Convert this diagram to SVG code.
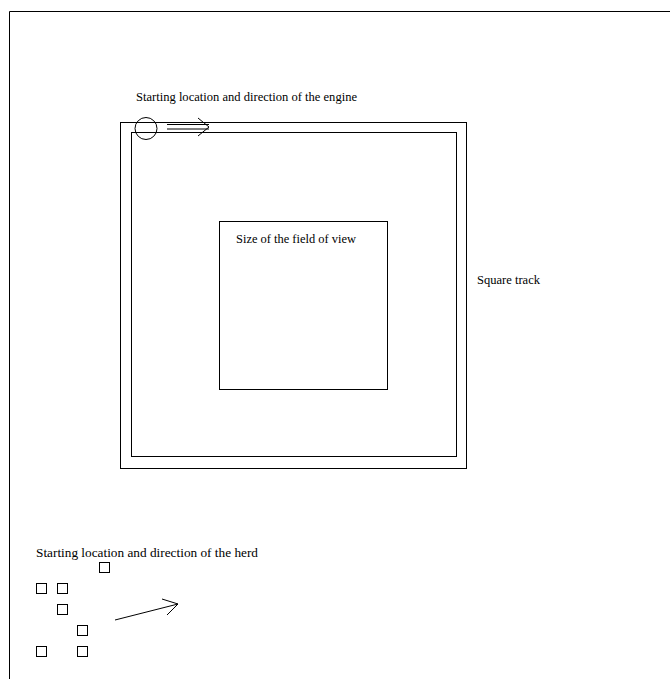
<svg xmlns="http://www.w3.org/2000/svg" width="670" height="679" viewBox="0 0 670 679">
  <style>
    .ln { fill: none; stroke: #000; stroke-width: 1; }
    .lbl { font-family: "Liberation Serif", "Times New Roman", serif; font-size: 12.5px; fill: #000; }
  </style>
  <defs>
    <rect id="cow" width="10" height="10" class="ln"/>
  </defs>
  <rect width="670" height="679" fill="#fff"/>

  <!-- page frame -->
  <g id="frame">
    <path class="ln" d="M9.5 679 V11.5 H670"/>
  </g>

  <!-- track and field of view -->
  <g id="track">
    <rect class="ln" x="120.5" y="122.5" width="346" height="346"/>
    <rect class="ln" x="131.5" y="132.5" width="325" height="324"/>
    <text class="lbl" x="477" y="284" textLength="63" lengthAdjust="spacingAndGlyphs">Square track</text>
  </g>
  <g id="field-of-view">
    <rect class="ln" x="219.5" y="221.5" width="168" height="168"/>
    <text class="lbl" x="236" y="243" textLength="120" lengthAdjust="spacingAndGlyphs">Size of the field of view</text>
  </g>

  <!-- engine start -->
  <g id="engine">
    <text class="lbl" x="136" y="101" textLength="221" lengthAdjust="spacingAndGlyphs">Starting location and direction of the engine</text>
    <circle class="ln" cx="146" cy="128.5" r="11"/>
  </g>

  <!-- herd start -->
  <g id="herd">
    <text class="lbl" x="36" y="557" textLength="222" lengthAdjust="spacingAndGlyphs">Starting location and direction of the herd</text>
    <use href="#cow" x="99.5" y="562.5"/>
    <use href="#cow" x="36.5" y="583.5"/>
    <use href="#cow" x="57.5" y="583.5"/>
    <use href="#cow" x="57.5" y="604.5"/>
    <use href="#cow" x="77.5" y="625.5"/>
    <use href="#cow" x="36.5" y="646.5"/>
    <use href="#cow" x="77.5" y="646.5"/>
  </g>

  <!-- direction arrows -->
  <g id="connectors">
    <path class="ln" d="M167 124.5 H209 M167 129 H209 M198 118 L209 127 L198 136"/>
    <path class="ln" d="M115 620 L178 604 M162 599 L178 604 L167 615"/>
  </g>
</svg>
